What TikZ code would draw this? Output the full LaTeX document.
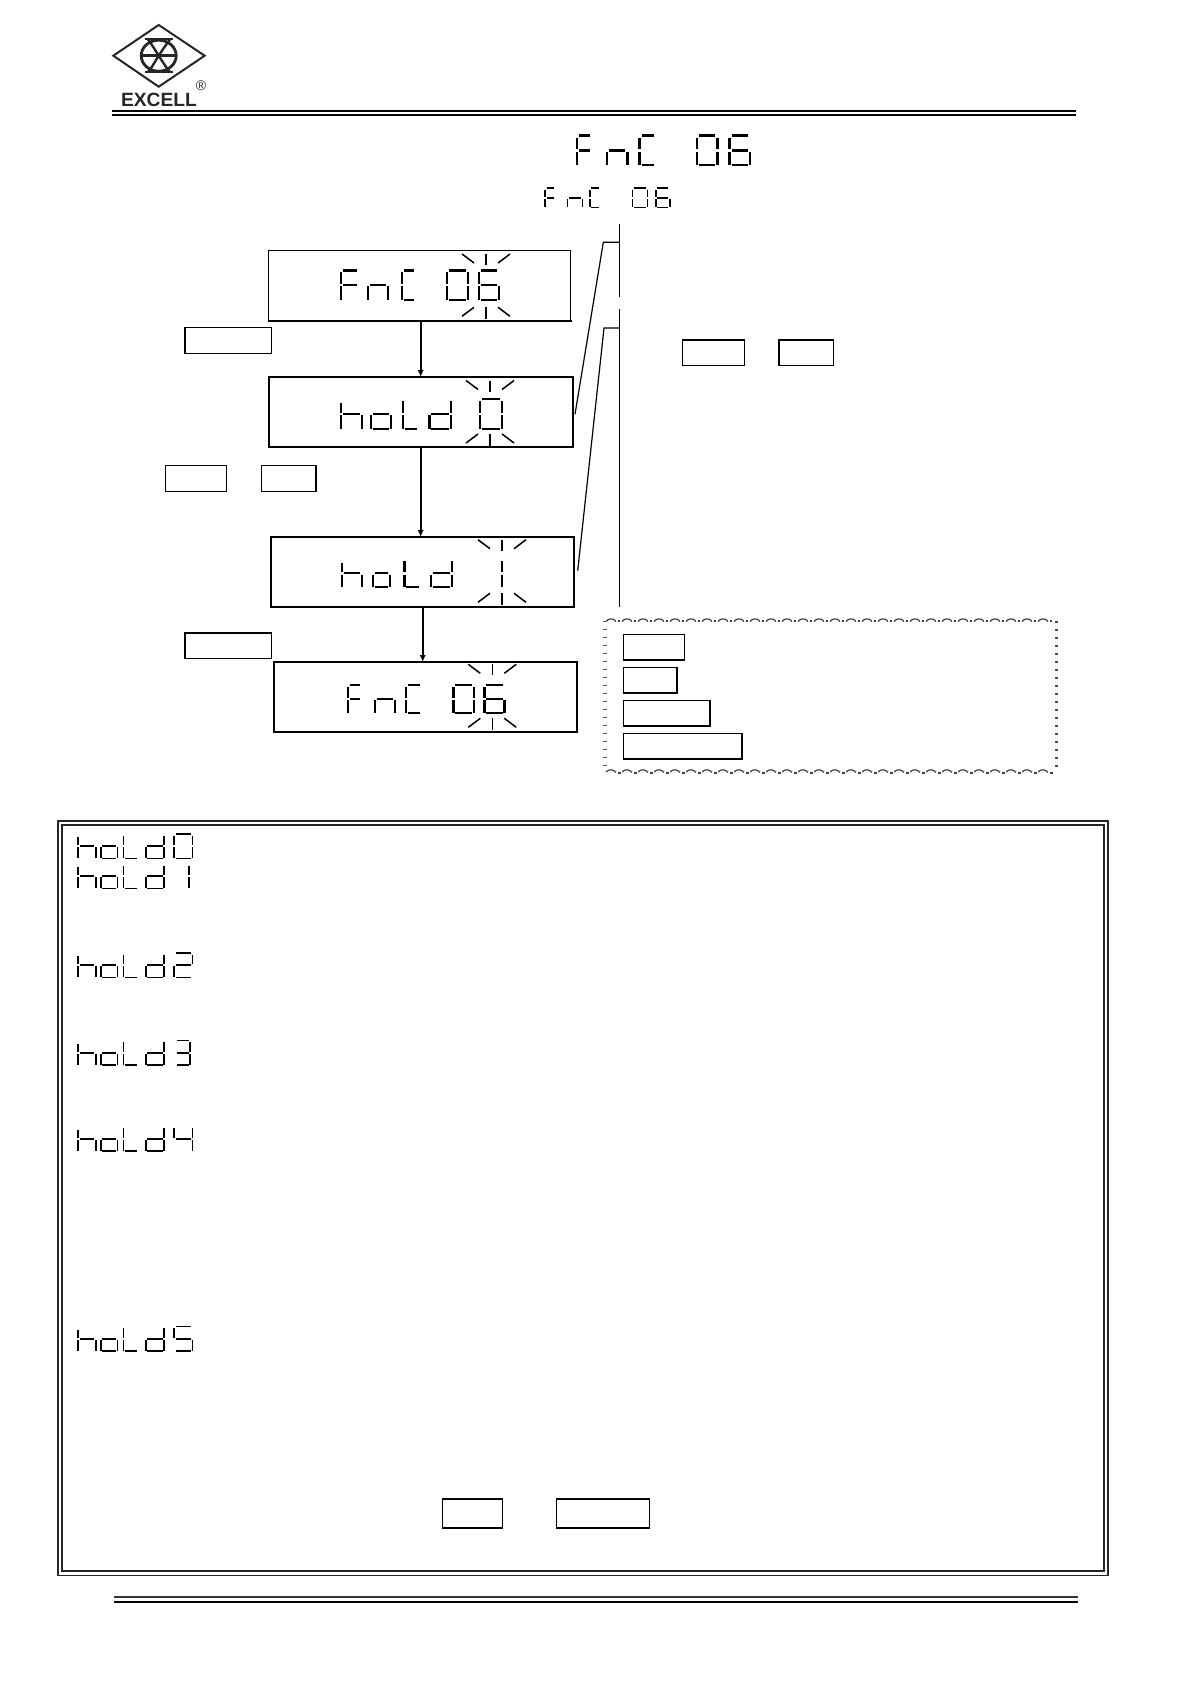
\documentclass[tikz,border=0pt]{standalone}
\usepackage{fontspec}
\setmainfont{Liberation Sans}
\usetikzlibrary{arrows.meta}
\tikzset{
  lcd/.style={line width=\segL*0.5pt,black,line cap=butt},
  lcdbox/.style={draw=black,line width=0.6pt,inner sep=0pt,outer sep=0pt},
  boxheavy/.style={line width=1.1pt,black,line cap=rect},
  keybox/.style={draw=black,line width=0.8pt,inner sep=0pt,outer sep=0pt},
  blinktick/.style={line width=0.75pt,black},
  flow/.style={line width=0.9pt,black,-{Latex[length=3.4pt,width=3pt]}},
  leader/.style={line width=0.6pt,black},
  rulefat/.style={line width=1.0pt,black},
  framel/.style={line width=0.85pt,black!85},
  waveedge/.style={line width=0.6pt,black!75},
  logoline/.style={line width=1.2pt,black!85},
}
% one segment of a seven-segment character
\expandafter\def\csname lcdsa\endcsname{\draw[lcd] ({\cx+1.4*\segL},{\segY-\segH+.5*\segL}) -- ({\cx+\cw-1.4*\segL},{\segY-\segH+.5*\segL});}
\expandafter\def\csname lcdsg\endcsname{\draw[lcd] ({\cx+1.4*\segL},{\segY-.5*\segH}) -- ({\cx+\cw-1.4*\segL},{\segY-.5*\segH});}
\expandafter\def\csname lcdsd\endcsname{\draw[lcd] ({\cx+1.4*\segL},{\segY-.5*\segL}) -- ({\cx+\cw-1.4*\segL},{\segY-.5*\segL});}
\expandafter\def\csname lcdsf\endcsname{\draw[lcd] ({\cx+.5*\segL},{\segY-\segH+1.4*\segL}) -- ({\cx+.5*\segL},{\segY-.5*\segH-.6*\segL});}
\expandafter\def\csname lcdsk\endcsname{\draw[lcd] ({\cx+.5*\segL},{\segY-.84*\segH}) -- ({\cx+.5*\segL},{\segY-.5*\segH-.6*\segL});}
\expandafter\def\csname lcdse\endcsname{\draw[lcd] ({\cx+.5*\segL},{\segY-.5*\segH+.6*\segL}) -- ({\cx+.5*\segL},{\segY-.6*\segL});}
\expandafter\def\csname lcdsb\endcsname{\draw[lcd] ({\cx+\cw-.5*\segL},{\segY-\segH+1.4*\segL}) -- ({\cx+\cw-.5*\segL},{\segY-.5*\segH-.6*\segL});}
\expandafter\def\csname lcdsc\endcsname{\draw[lcd] ({\cx+\cw-.5*\segL},{\segY-.5*\segH+.6*\segL}) -- ({\cx+\cw-.5*\segL},{\segY-.6*\segL});}
% glyphs
\newcommand\defglyph[2]{\expandafter\def\csname lcdg#1\endcsname{#2}}
\defglyph{h}{k,e,g,c}\defglyph{o}{g,c,d,e}\defglyph{L}{f,e,d}\defglyph{d}{b,c,d,e,g}
\defglyph{F}{a,f,g,e}\defglyph{n}{e,g,c}\defglyph{C}{a,f,e,d}
\defglyph{0}{a,b,c,d,e,f}\defglyph{1}{b,c}\defglyph{2}{a,b,g,e,d}\defglyph{3}{a,b,g,c,d}
\defglyph{4}{f,g,b,c}\defglyph{5}{a,f,g,c,d}\defglyph{6}{a,f,g,e,d,c}
% string: baseline, height, stroke, list x/width/glyph
\newcommand\lcdstr[4]{%
  \def\segY{#1}\def\segH{#2}\def\segL{#3}%
  \foreach \cx/\cw/\cg in {#4}{%
    \edef\glist{\csname lcdg\cg\endcsname}%
    \foreach \s in \glist {\csname lcds\s\endcsname}%
  }}
% blink marks: centre x, top y, lower y
\newcommand\blinkmarks[3]{%
  \draw[blinktick] (#1,#2) -- (#1,#2+11);
  \draw[blinktick] (#1-24,#2) -- (#1-12,#2+9);
  \draw[blinktick] (#1+24,#2) -- (#1+12,#2+9);
  \draw[blinktick] (#1,#3) -- (#1,#3+11.5);
  \draw[blinktick] (#1-12,#3) -- (#1-24,#3+9);
  \draw[blinktick] (#1+12,#3) -- (#1+24,#3+9);
}
% named box from corners
\newcommand\cornerbox[6]{\node[#2,minimum width={(#5-#3)*0.5pt},minimum height={(#6-#4)*0.5pt}]
  (#1) at ({(#3+#5)/2},{(#4+#6)/2}) {};}
\begin{document}
\begin{tikzpicture}[x=0.5pt,y=-0.5pt]
\useasboundingbox (0,0) rectangle (1191,1685);
\fill[white] (0,0) rectangle (1191,1685);

% ---------- logo
\coordinate (dT) at (158.7,25); \coordinate (dR) at (204.7,55.7);
\coordinate (dB) at (158.7,86.7); \coordinate (dL) at (113.3,55.7);
\draw[logoline,line width=1pt] (dT) -- (dR) -- (dB) -- (dL) -- cycle;
\draw[logoline,line width=1.4pt] (158.7,55.7) ellipse [x radius=17.5,y radius=15.5];
\draw[logoline] (141.5,55.7) -- (176,55.7);
\draw[logoline] (145,39.2) -- (173,39.2);
\draw[logoline] (145,72.2) -- (173,72.2);
\draw[logoline] (148,39.5) .. controls (153,46) and (155,50) .. (158.7,55.7) .. controls (162.4,61.4) and (165,66) .. (170,72);
\draw[logoline] (170,39.5) .. controls (165,46) and (162.4,50) .. (158.7,55.7) .. controls (155,61.4) and (153,66) .. (148,72);
\node[inner sep=0pt,text=black!85] (excell) at (159,99.5) {\fontsize{9.6pt}{10pt}\selectfont\bfseries EXCELL};
\node[inner sep=0pt,text=black!85] (regmark) at (201,86) {\fontsize{7pt}{7pt}\selectfont ®};

% ---------- header and footer rules
\draw[rulefat] (111.5,111.2) -- (1076,111.2);
\draw[rulefat,line width=.8pt] (111.5,115) -- (1076,115);
\draw[rulefat,line width=.9pt,black!80] (114,1597.3) -- (1078,1597.3);
\draw[rulefat] (114,1601.5) -- (1078,1601.5);

% ---------- titles
\lcdstr{166.5}{32}{2.6}{575.7/18.3/F,605.7/23/n,638.3/19/C,695.7/23/0,728.3/23/6}
\lcdstr{208.3}{20.8}{1.6}{544.3/12.3/F,566.7/16.7/n,589/12.7/C,631.7/16.7/0,655/15.7/6}

% ---------- display boxes
\cornerbox{box1}{lcdbox}{268.6}{250.3}{570.8}{321}
\cornerbox{box2}{lcdbox}{269}{377}{573}{447}
\cornerbox{box3}{lcdbox}{271}{537}{574}{607}
\cornerbox{box4}{lcdbox}{274}{662}{577}{732}
\draw[boxheavy] (box1.south west) -- (box1.south east);
\draw[boxheavy] (box2.south west) -- (box2.north west) -- (box2.north east);
\draw[boxheavy] (box3.north west) -- (box3.north east) -- (box3.south east);
\draw[boxheavy] (box4.north west) -- (box4.north east) -- (box4.south east);

\lcdstr{301}{31.7}{2.2}{340/20/F,366.8/22/n,400.5/17/C,445.8/23/0,477.5/22.5/6}
\blinkmarks{486}{254}{307.3}
\lcdstr{430}{32}{2.2}{340/22.7/h,370/21.7/o,401.7/18.3/L,428.3/24/d,479/24.3/0}
\blinkmarks{490}{380.5}{434}
\lcdstr{588.3}{30}{2.2}{341/22.3/h,371.7/19/o,403.3/18.3/L,430/23.3/d,480/23.4/1}
\blinkmarks{502}{539.7}{593.3}
\lcdstr{714.3}{30.3}{2.2}{346.7/16.7/F,374/22/n,405/17.7/C,452.3/22.7/0,483.3/22.3/6}
\blinkmarks{492.3}{664.3}{718.3}

% ---------- flow arrows
\coordinate (a1) at (420.7,0); \coordinate (a2) at (422.7,0);
\draw[flow] (a1 |- box1.south) -- (a1 |- box2.north);
\draw[flow] (a1 |- box2.south) -- (a1 |- box3.north);
\draw[flow] (a2 |- box3.south) -- (a2 |- box4.north);

% ---------- key boxes left
\cornerbox{keyA}{keybox}{185}{327.3}{271.3}{353.3}
\cornerbox{keyB}{keybox}{165.3}{465.3}{226.3}{491.3}
\cornerbox{keyC}{keybox}{261.3}{465.3}{316}{491.3}
\cornerbox{keyD}{keybox}{185}{632.7}{271.3}{658.3}

% ---------- bracket lines
\coordinate (vA) at (619.3,224); \coordinate (vB) at (619.3,297.3);
\coordinate (vC) at (619.3,309.3); \coordinate (vD) at (619.3,607.3);
\coordinate (k1) at (603.3,242.3); \coordinate (k2) at (604,328);
\coordinate (lead1) at (575,414.3); \coordinate (lead2) at (577.7,570.7);
\draw[leader] (vA) -- (vB);
\draw[leader] (vC) -- (vD);
\draw[leader] (lead1) -- (k1) -- (vA |- k1);
\draw[leader] (lead2) -- (k2) -- (vC |- k2);

% ---------- key boxes right
\cornerbox{keyE}{keybox}{682.3}{339.7}{744.3}{365.3}
\cornerbox{keyF}{keybox}{779}{339.7}{833.3}{365.3}

% ---------- legend panel
\coordinate (pTL) at (605,620.7); \coordinate (pTR) at (1056.7,620.7);
\coordinate (pBL) at (605,772.3); \coordinate (pBR) at (1056.7,772.3);
\foreach \wx in {606,622,...,1046}{
  \draw[waveedge] (\wx,621.5) .. controls (\wx+2.5,618) and (\wx+7.5,618) .. (\wx+10,621.5);
  \draw[waveedge] (\wx+12,621) -- (\wx+14,621);
  \draw[waveedge] (\wx,772) .. controls (\wx+2.5,769) and (\wx+7.5,769) .. (\wx+10,772.5);
  \draw[waveedge] (\wx+11.5,773) -- (\wx+14.5,773);
}
\draw[line width=1.8pt,black!65,dash pattern=on .8pt off 3.2pt] (pTL) -- (pBL);
\draw[line width=1.4pt,black!70,dash pattern=on 1.2pt off 2.8pt] (pTR) -- (pBR);
\cornerbox{keyG}{keybox}{623.3}{634.3}{684.3}{660}
\cornerbox{keyH}{keybox}{623.3}{667.3}{676.7}{693}
\cornerbox{keyI}{keybox}{623.3}{700.3}{709.7}{726}
\cornerbox{keyJ}{keybox}{623.3}{733.3}{741.7}{759}

% ---------- main double frame
\draw[framel] (57.7,820.7) rectangle (1108,1575.5);
\draw[framel] (62,825) rectangle (1104,1571);

\lcdstr{859.3}{26}{1.7}{77.3/19.3/h,100/18.3/o,122.7/16.7/L,145/20/d,173.3/20/0}
\lcdstr{889.3}{26}{1.7}{77.3/19.3/h,100/18.3/o,122.7/16.7/L,145/20/d,174/16/1}
\lcdstr{978.3}{26}{1.7}{77.3/19.3/h,100/18.3/o,122.7/16.7/L,145/20/d,173.3/20/2}
\lcdstr{1065.7}{26}{1.7}{77.3/19.3/h,100/18.3/o,122.7/16.7/L,145/20/d,175/16/3}
\lcdstr{1151.7}{26}{1.7}{77.3/19.3/h,100/18.3/o,122.7/16.7/L,145/20/d,173.3/20/4}
\lcdstr{1351.7}{26}{1.7}{77.3/19.3/h,100/18.3/o,122.7/16.7/L,145/20/d,173.3/20/5}

\cornerbox{keyK}{keybox}{442.4}{1498.7}{502.5}{1527.7}
\cornerbox{keyL}{keybox}{556.4}{1498.7}{649.4}{1527.7}
\end{tikzpicture}
\end{document}
